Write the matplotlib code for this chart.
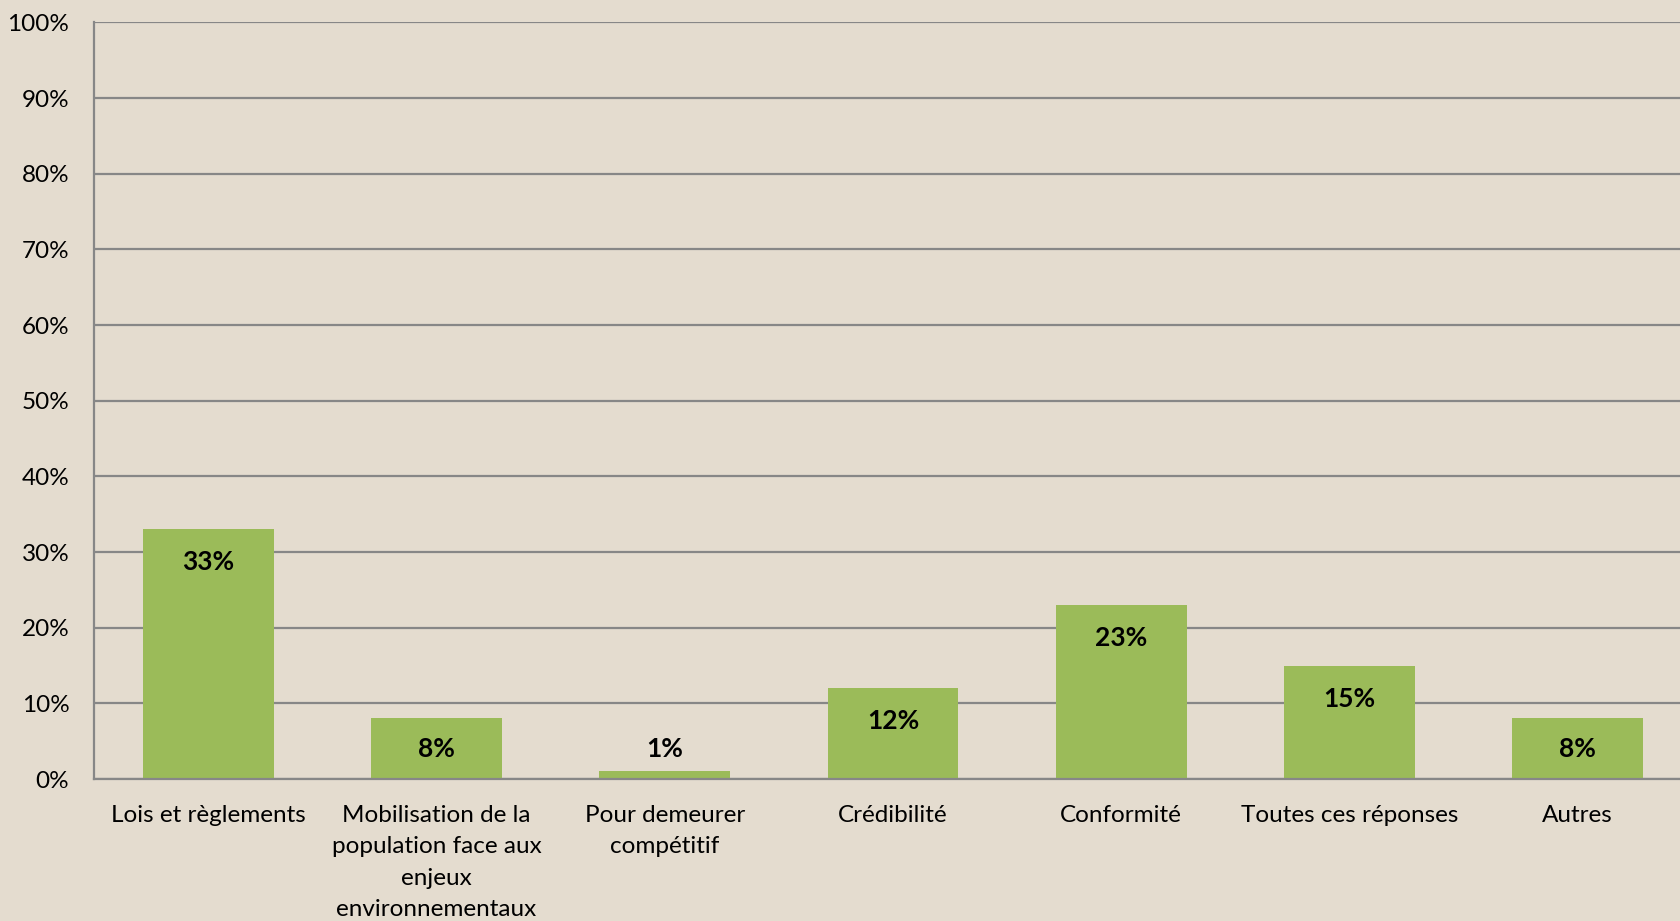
import matplotlib
matplotlib.use("Agg")
import matplotlib.pyplot as plt
from matplotlib.ticker import FuncFormatter, MultipleLocator

categories = [
    "Lois et règlements",
    "Mobilisation de la\npopulation face aux\nenjeux\nenvironnementaux",
    "Pour demeurer\ncompétitif",
    "Crédibilité",
    "Conformité",
    "Toutes ces réponses",
    "Autres",
]
values = [33, 8, 1, 12, 23, 15, 8]

BG = "#E4DCCF"
BAR = "#9BBB59"
GRID = "#878787"
FONT = ["Lato", "DejaVu Sans"]

W, H = 1680, 921
fig = plt.figure(figsize=(W / 100, H / 100), dpi=100, facecolor=BG)
left_px, bottom_px, top_px = 94.3, 779, 22.5
width_px = 7 * 228.2
ax = fig.add_axes([left_px / W, (H - bottom_px) / H, width_px / W, (bottom_px - top_px) / H])
ax.set_facecolor("none")

x = list(range(len(categories)))
ax.bar(x, values, width=0.573, color=BAR, zorder=3)

ax.set_xlim(-0.5, len(categories) - 0.5)
ax.set_ylim(0, 100)
ax.yaxis.set_major_locator(MultipleLocator(10))
ax.yaxis.set_major_formatter(FuncFormatter(lambda v, p: f"{int(round(v))}%"))
ax.grid(axis="y", color=GRID, linewidth=1.6, zorder=0)
ax.set_axisbelow(True)

for s in ["top", "right"]:
    ax.spines[s].set_visible(False)
for s in ["left", "bottom"]:
    ax.spines[s].set_color(GRID)
    ax.spines[s].set_linewidth(1.6)
ax.spines["bottom"].set_zorder(4)

ax.set_xticks(x)
ax.set_xticklabels(categories, fontsize=17.5, family=FONT, linespacing=1.62, va="top")
ax.tick_params(axis="x", length=0, pad=18.5, colors="black")
ax.tick_params(axis="y", length=0, pad=18, labelsize=17.5, colors="black")
for lab in ax.get_yticklabels():
    lab.set_family(FONT)

for xi, v in zip(x, values):
    ax.annotate(f"{v}%", xy=(xi, max(v, 8.3)), xytext=(0, -33 * 0.72),
                textcoords="offset points", ha="center", va="center",
                fontsize=19, fontweight="bold", family=FONT, color="black", zorder=5)

fig.savefig("out.png", dpi=100, facecolor=BG)
